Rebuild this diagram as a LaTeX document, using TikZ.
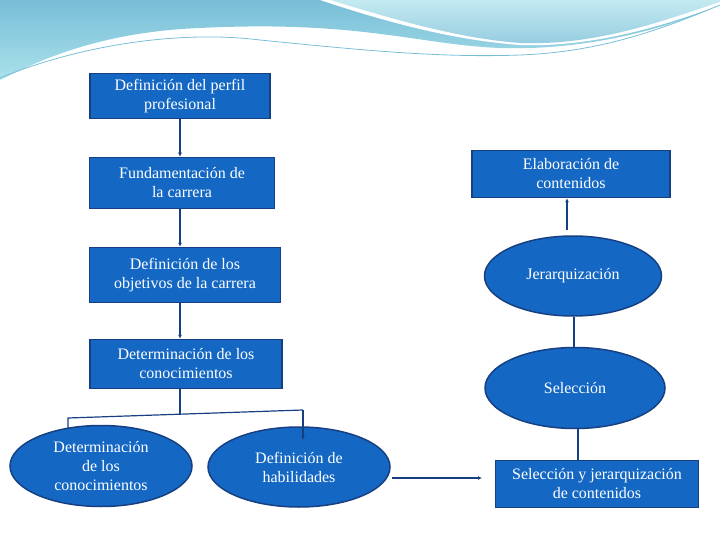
\documentclass[tikz,border=0pt]{standalone}
\usepackage{fontspec}
\setmainfont{Liberation Serif}
\usetikzlibrary{shapes.geometric,arrows.meta}
\definecolor{fillb}{RGB}{20,104,196}
\definecolor{edgeb}{RGB}{22,64,130}
\definecolor{sky}{RGB}{120,190,215}
\definecolor{skyl}{RGB}{170,225,235}
\begin{document}
\begin{tikzpicture}[x=1pt,y=-1pt,
  box/.style={draw=edgeb,line width=1.5pt,fill=fillb,text=white,align=center,font=\fontsize{16}{19}\selectfont,inner sep=2pt},
  oval/.style={ellipse,draw=edgeb,line width=1.5pt,fill=fillb,text=white,align=center,font=\fontsize{16}{19}\selectfont,inner sep=0pt},
  con/.style={draw=edgeb,line width=1.2pt},
  arr/.style={con,-{Latex[length=4pt,width=4pt]}}]
\useasboundingbox (0,0) rectangle (720,540);
% header swoosh
\shade[top color=sky,bottom color=skyl] (0,0) -- (720,0) -- (720,5) .. controls (640,40) and (560,50) .. (500,48) .. controls (420,45) and (360,20) .. (200,28) .. controls (100,32) and (40,60) .. (0,80) -- cycle;
\fill[white] (320,0) .. controls (380,20) and (450,40) .. (520,45) .. controls (600,48) and (680,20) .. (720,5) -- (720,0) -- cycle;
\shade[top color=skyl!70!white,bottom color=sky!80!white] (330,0) .. controls (390,18) and (455,38) .. (520,43) .. controls (600,46) and (670,18) .. (720,2) -- (720,0) -- cycle;
\draw[sky,line width=0.8pt] (0,78) .. controls (80,45) and (180,30) .. (260,40) .. controls (360,50) and (440,58) .. (520,55) .. controls (600,52) and (660,30) .. (720,5);
% connectors behind nodes
\coordinate (m) at (180,414);
\coordinate (l) at (68,418);
\coordinate (lb) at (68,440);
\coordinate (r) at (303,410);
\coordinate (rb) at (303,440);
\coordinate (hs) at (392,478);
\coordinate (he) at (482,478);
\draw[con] (lb) -- (l) -- (r);
% nodes
\node[box,minimum width=180pt,minimum height=45pt] (a) at (180,96) {Definición del perfil\\profesional};
\node[box,minimum width=185pt,minimum height=51pt] (b) at (182,183) {Fundamentación de\\la carrera};
\node[box,minimum width=191pt,minimum height=55pt] (c) at (185,275) {Definición de los\\objetivos de la carrera};
\node[box,minimum width=192pt,minimum height=49pt] (d) at (186,364) {Determinación de los\\conocimientos};
\node[oval,minimum width=182pt,minimum height=81pt] (e1) at (101,466) {Determinación\\de los\\conocimientos};
\node[oval,minimum width=182pt,minimum height=80pt] (e2) at (299,467) {Definición de\\habilidades};
\node[box,minimum width=198pt,minimum height=47pt] (r1) at (571,174) {Elaboración de\\contenidos};
\node[oval,minimum width=177pt,minimum height=80pt] (j) at (573,276) {Jerarquización};
\node[oval,minimum width=180pt,minimum height=81pt] (s) at (575,388) {Selección};
\node[box,minimum width=203pt,minimum height=47pt] (sj) at (597,484) {Selección y jerarquización\\de contenidos};
% connectors
\draw[arr] (a.south) -- (b.north -| a.south);
\draw[arr] (b.south -| a.south) -- (c.north -| a.south);
\draw[arr] (c.south -| a.south) -- (d.north -| a.south);
\draw[con] (d.south -| m) -- (m);
\draw[arr] (r) -- (rb);
\draw[arr] (hs) -- (he);
\draw[con] (s.south -| 578,0) -- (sj.north -| 578,0);
\draw[con] (j.south -| 574,0) -- (s.north -| 574,0);
\draw[arr] (567,230) -- (r1.south -| 567,0);
\end{tikzpicture}
\end{document}
